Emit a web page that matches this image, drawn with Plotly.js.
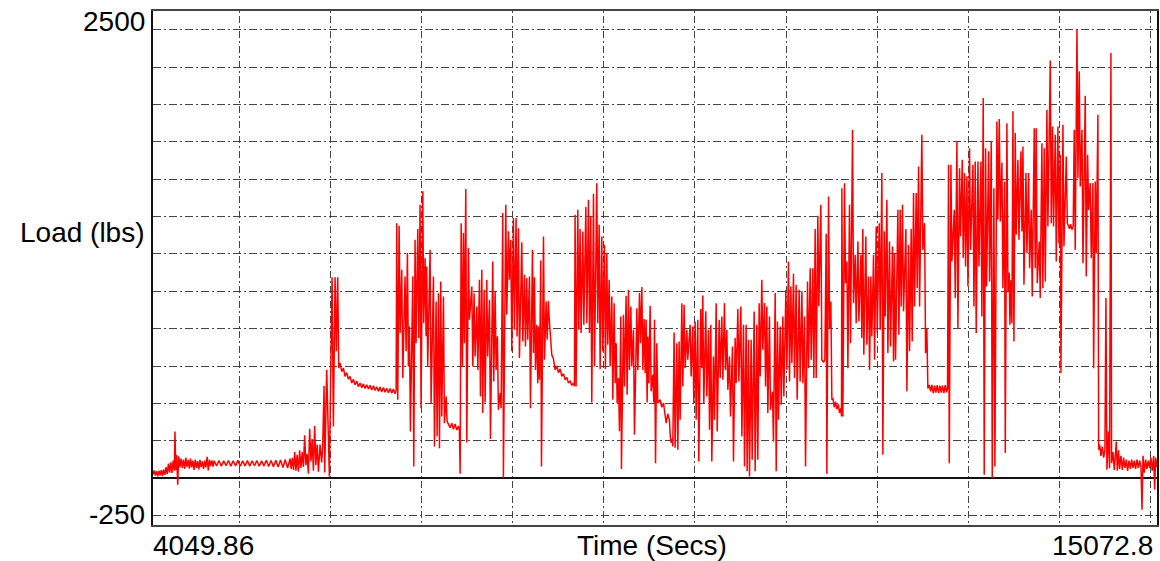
<!DOCTYPE html>
<html>
<head>
<meta charset="utf-8">
<script src="https://cdn.plot.ly/plotly-3.0.1.min.js"></script>
<style>
  html, body { margin: 0; padding: 0; background: #fff; }
  #chart { width: 1160px; height: 561px; }
</style>
</head>
<body>
<div id="chart"></div>
<script>
// Time (Secs) and Load (lbs) samples, 10 per line
const timeSecs = [
  4050,4063,4076,4089,4102,4115,4128,4141,4154,4167,
  4180,4193,4206,4219,4232,4245,4258,4271,4284,4291,
  4300,4310,4321,4332,4345,4358,4371,4384,4397,4410,
  4423,4436,4449,4462,4475,4488,4501,4514,4527,4540,
  4553,4566,4579,4592,4605,4618,4631,4644,4657,4670,
  4683,4696,4709,4722,4748,4774,4800,4826,4852,4878,
  4904,4930,4956,4982,5008,5034,5060,5086,5112,5138,
  5164,5190,5216,5242,5268,5294,5320,5346,5372,5398,
  5424,5450,5476,5502,5528,5554,5567,5580,5593,5606,
  5619,5632,5646,5660,5674,5688,5701,5715,5728,5742,
  5756,5770,5784,5797,5811,5825,5838,5852,5866,5884,
  5902,5913,5928,5935,5957,5972,5986,6001,6016,6030,
  6049,6063,6078,6089,6104,6122,6140,6158,6177,6195,
  6213,6232,6250,6268,6287,6305,6323,6342,6360,6378,
  6396,6415,6433,6451,6470,6488,6506,6525,6543,6561,
  6580,6598,6616,6634,6653,6671,6689,6708,6719,6726,
  6737,6752,6763,6781,6792,6817,6829,6843,6854,6865,
  6876,6902,6913,6927,6938,6957,6968,6982,6993,7012,
  7022,7037,7048,7055,7066,7092,7103,7129,7140,7158,
  7169,7184,7195,7209,7220,7239,7249,7268,7279,7293,
  7312,7330,7348,7367,7385,7403,7414,7422,7433,7447,
  7458,7469,7484,7495,7513,7524,7550,7561,7575,7586,
  7605,7616,7634,7645,7660,7670,7685,7696,7714,7725,
  7744,7755,7780,7791,7806,7817,7831,7842,7861,7872,
  7890,7897,7923,7934,7952,7963,7978,7989,8007,8018,
  8036,8047,8062,8073,8099,8110,8128,8139,8153,8164,
  8183,8194,8216,8227,8238,8249,8263,8274,8282,8293,
  8307,8315,8337,8348,8366,8377,8391,8399,8410,8428,
  8446,8465,8483,8501,8520,8538,8556,8575,8593,8611,
  8629,8648,8666,8677,8684,8695,8714,8725,8739,8750,
  8769,8780,8802,8813,8831,8842,8856,8867,8886,8897,
  8922,8933,8948,8959,8977,8988,9006,9017,9032,9043,
  9058,9069,9087,9098,9113,9124,9135,9146,9160,9171,
  9186,9193,9215,9226,9244,9255,9270,9281,9296,9307,
  9325,9336,9362,9373,9391,9402,9417,9428,9442,9453,
  9464,9475,9483,9494,9508,9519,9537,9548,9556,9567,
  9581,9592,9618,9636,9655,9673,9684,9702,9720,9728,
  9738,9749,9757,9771,9782,9801,9812,9826,9837,9856,
  9867,9881,9892,9911,9921,9947,9958,9976,9987,10002,
  10013,10031,10042,10064,10075,10086,10097,10119,10130,10149,
  10160,10174,10185,10203,10214,10233,10244,10266,10277,10295,
  10306,10324,10335,10350,10361,10379,10390,10412,10423,10441,
  10452,10471,10482,10504,10515,10533,10544,10562,10573,10588,
  10599,10617,10628,10650,10661,10679,10690,10705,10716,10734,
  10745,10764,10775,10789,10800,10818,10829,10851,10862,10881,
  10892,10906,10917,10936,10947,10965,10976,10998,11009,11027,
  11038,11053,11064,11082,11093,11111,11122,11144,11155,11174,
  11185,11203,11214,11236,11247,11265,11276,11294,11305,11320,
  11331,11349,11360,11382,11393,11412,11426,11441,11448,11467,
  11478,11492,11503,11514,11529,11543,11558,11573,11587,11602,
  11609,11613,11624,11642,11653,11668,11679,11697,11708,11730,
  11741,11759,11770,11789,11800,11822,11832,11843,11854,11876,
  11887,11906,11917,11931,11942,11961,11972,11990,12001,12023,
  12034,12052,12063,12078,12089,12107,12118,12136,12147,12169,
  12180,12191,12202,12228,12239,12253,12264,12279,12290,12316,
  12327,12345,12356,12374,12385,12400,12411,12429,12440,12455,
  12466,12491,12502,12521,12532,12546,12557,12572,12587,12601,
  12616,12631,12645,12660,12675,12689,12704,12718,12733,12748,
  12762,12773,12784,12792,12810,12821,12847,12858,12876,12887,
  12905,12916,12935,12945,12960,12971,12986,12997,13015,13026,
  13052,13063,13077,13088,13107,13118,13140,13150,13165,13176,
  13191,13202,13224,13235,13253,13264,13282,13293,13315,13326,
  13341,13352,13370,13381,13399,13407,13425,13436,13450,13458,
  13469,13480,13491,13502,13516,13527,13546,13557,13579,13590,
  13601,13612,13634,13645,13663,13674,13692,13703,13725,13736,
  13747,13758,13780,13791,13809,13820,13835,13846,13864,13875,
  13901,13912,13926,13937,13956,13967,13985,13996,14011,14018,
  14040,14051,14077,14088,14102,14113,14124,14139,14153,14164,
  14175,14194,14205,14219,14230,14249,14260,14285,14296,14311,
  14322,14340,14351,14369,14377,14395,14406,14424,14432,14443,
  14457,14472,14487,14501,14512,14523,14541,14552,14567,14574,
  14589,14604,14626,14637,14651,14662,14677,14692,14706,14721,
  14736,14750,14765,14780,14794,14809,14823,14838,14853,14867,
  14882,14897,14908,14919,14933,14948,14962,14977,14992,15006,
  15021,15036,15047,15058,15072
];
const loadLbs = [
  20,42,14,38,10,40,16,44,12,48,
  18,60,22,78,30,85,28,95,40,250,
  45,125,-35,118,60,105,55,100,50,110,
  60,98,52,105,58,95,45,100,55,92,
  48,98,60,90,50,95,58,115,42,100,
  65,96,62,94,66,95,64,93,67,95,
  65,94,66,96,64,93,66,95,65,94,
  67,95,64,93,66,96,63,95,62,97,
  60,98,58,100,55,105,50,110,45,140,
  40,125,35,150,55,140,60,230,70,130,
  25,265,90,210,40,280,70,180,35,180,
  85,170,495,31,580,220,10,560,1076,277,
  1076,680,1076,590,616,570,590,545,565,530,
  545,510,530,500,520,490,510,485,505,480,
  500,478,498,472,495,470,490,465,488,462,
  485,460,482,458,480,455,478,452,470,1365,
  420,1351,777,1115,536,1080,680,1205,598,812,
  250,1080,63,1276,723,1333,750,1463,375,1535,
  830,1178,760,1133,598,1222,402,1080,170,946,
  224,990,161,1053,331,973,295,438,304,290,
  270,295,262,290,258,280,255,24,1365,600,
  1312,723,1547,192,1231,848,1026,598,990,652,
  919,580,1062,438,1115,349,1008,406,1062,652,
  955,210,1160,518,1000,580,760,366,456,375,
  1419,1,1463,875,1321,1062,1276,679,1392,795,
  1392,759,1338,643,1262,732,1089,705,1071,741,
  1080,375,1222,670,1076,580,821,509,812,527,
  1165,63,1294,634,946,741,950,860,759,660,
  640,580,600,565,585,545,560,527,540,510,
  520,497,510,492,1410,491,1437,795,1333,777,
  1320,821,1451,830,1490,777,1401,406,1522,598,
  1579,830,1356,584,1294,679,1249,584,1205,714,
  1062,598,973,420,937,509,723,402,536,251,
  866,49,875,491,976,447,1008,580,919,598,
  795,233,910,580,991,723,1023,580,852,562,
  848,406,759,509,923,465,554,406,848,81,
  723,402,420,380,402,340,295,345,310,233,
  190,210,170,780,163,723,152,732,313,937,
  491,928,589,795,634,821,545,812,402,839,
  313,848,90,905,589,978,402,893,437,795,
  260,821,90,652,313,937,250,848,536,866,
  527,937,580,795,473,652,331,705,90,750,
  509,905,518,919,224,821,63,821,37,741,
  10,741,99,892,37,821,99,937,545,1062,
  688,937,491,919,349,866,366,464,197,991,
  37,839,313,812,393,866,438,1008,580,1160,
  518,1026,616,1094,536,1035,420,1008,518,1000,
  509,866,63,1053,589,1124,634,1124,536,1333,
  536,1404,920,1463,634,620,634,1308,24,1508,
  800,946,420,430,380,410,370,395,350,375,
  331,1552,331,1579,1044,1160,589,1463,723,1865,
  937,1196,830,1267,839,1196,750,1333,661,1294,
  714,1080,580,1080,759,1196,634,1347,777,1365,
  795,1633,126,1321,866,1490,670,1267,705,1240,
  625,1205,634,1436,768,1436,919,1463,893,1333,
  465,1249,679,1333,732,1526,919,1526,1017,1668,
  919,1838,1222,1365,669,800,480,500,465,500,
  456,495,458,498,456,496,458,495,456,498,
  460,480,1677,81,1677,1160,1436,964,1802,803,
  1659,1294,1704,1178,1633,1133,1616,1026,1766,1222,
  1677,919,1695,777,1695,1133,1695,866,2034,19,
  1766,1026,1749,1053,1802,1,1552,63,1909,1383,
  1922,1374,1690,1017,1588,135,1900,1000,1100,821,
  1060,830,1963,732,1847,1303,1704,1276,1749,1321,
  1775,1035,1633,1205,1633,1124,1436,973,1873,1124,
  1873,1044,1267,964,1793,1017,1766,1053,1971,1347,
  2235,1365,1882,1347,1838,1160,1882,1258,1731,563,
  1891,1240,1722,1365,1350,1335,1360,1330,1350,1865,
  1222,2403,1606,2177,1561,1865,1151,2046,1080,1731,
  1436,1579,1178,1579,589,1588,1204,1945,152,180,
  120,170,110,150,964,46,251,54,2275,81,
  140,45,197,40,150,50,120,45,110,55,
  100,40,95,50,100,55,95,50,100,55,
  95,60,-168,120,30,100,50,95,55,110,
  40,120,-60,110,60
];

const xStart = 4049.86, xEnd = 15072.8;
const yMin = -250, yMax = 2500;
const xLabelLeft = "4049.86", xLabelRight = "15072.8";
const yLabelTop = "2500", yLabelBottom = "-250";
const xTitle = "Time (Secs)", yTitle = "Load (lbs)";

if (timeSecs.length !== loadLbs.length) {
  console.error("length mismatch", timeSecs.length, loadLbs.length);
}
const n = Math.min(timeSecs.length, loadLbs.length);

const FONT = { family: "Liberation Sans, Arial, sans-serif", size: 28, color: "#000" };

const trace = {
  type: "scatter",
  mode: "lines",
  x: timeSecs.slice(0, n),
  y: loadLbs.slice(0, n),
  line: { color: "#ff0000", width: 1.5 },
  hoverinfo: "skip"
};

const layout = {
  width: 1160, height: 561,
  margin: { l: 153, r: 3, t: 11, b: 36 },
  paper_bgcolor: "#ffffff",
  plot_bgcolor: "#ffffff",
  showlegend: false,
  font: FONT,
  xaxis: {
    range: [xStart, xEnd],
    tick0: 0, dtick: 1000,
    showticklabels: false, ticks: "",
    showgrid: true, gridcolor: "#444", gridwidth: 1, griddash: "2px,3px,7px,3px",
    zeroline: false,
    showline: true, linecolor: "#444", linewidth: 2, mirror: true,
    fixedrange: true
  },
  yaxis: {
    range: [yMin, yMax],
    tick0: 0, dtick: 200,
    showticklabels: false, ticks: "",
    showgrid: true, gridcolor: "#444", gridwidth: 1, griddash: "8px,3px,2px,3px",
    zeroline: true, zerolinecolor: "#111", zerolinewidth: 2,
    showline: true, linecolor: "#111", linewidth: 2, mirror: true,
    fixedrange: true
  },
  annotations: [
    { text: yLabelTop, xref: "paper", x: 0, xanchor: "right", xshift: -6,
      yref: "y", y: 2442, yanchor: "middle", showarrow: false, font: FONT },
    { text: yLabelBottom, xref: "paper", x: 0, xanchor: "right", xshift: -6,
      yref: "y", y: -193, yanchor: "middle", showarrow: false, font: FONT },
    { text: yTitle, xref: "paper", x: 0, xanchor: "right", xshift: -6,
      yref: "y", y: 1313, yanchor: "middle", showarrow: false, font: FONT },
    { text: xLabelLeft, xref: "x", x: xStart, xanchor: "left", xshift: -2,
      yref: "paper", y: 0, yanchor: "middle", yshift: -20, showarrow: false, font: FONT },
    { text: xLabelRight, xref: "x", x: xEnd, xanchor: "right", xshift: -2,
      yref: "paper", y: 0, yanchor: "middle", yshift: -20, showarrow: false, font: FONT },
    { text: xTitle, xref: "paper", x: 0.497, xanchor: "center",
      yref: "paper", y: 0, yanchor: "middle", yshift: -20, showarrow: false, font: FONT }
  ]
};

Plotly.newPlot("chart", [trace], layout, { displayModeBar: false, staticPlot: true });
</script>
</body>
</html>
